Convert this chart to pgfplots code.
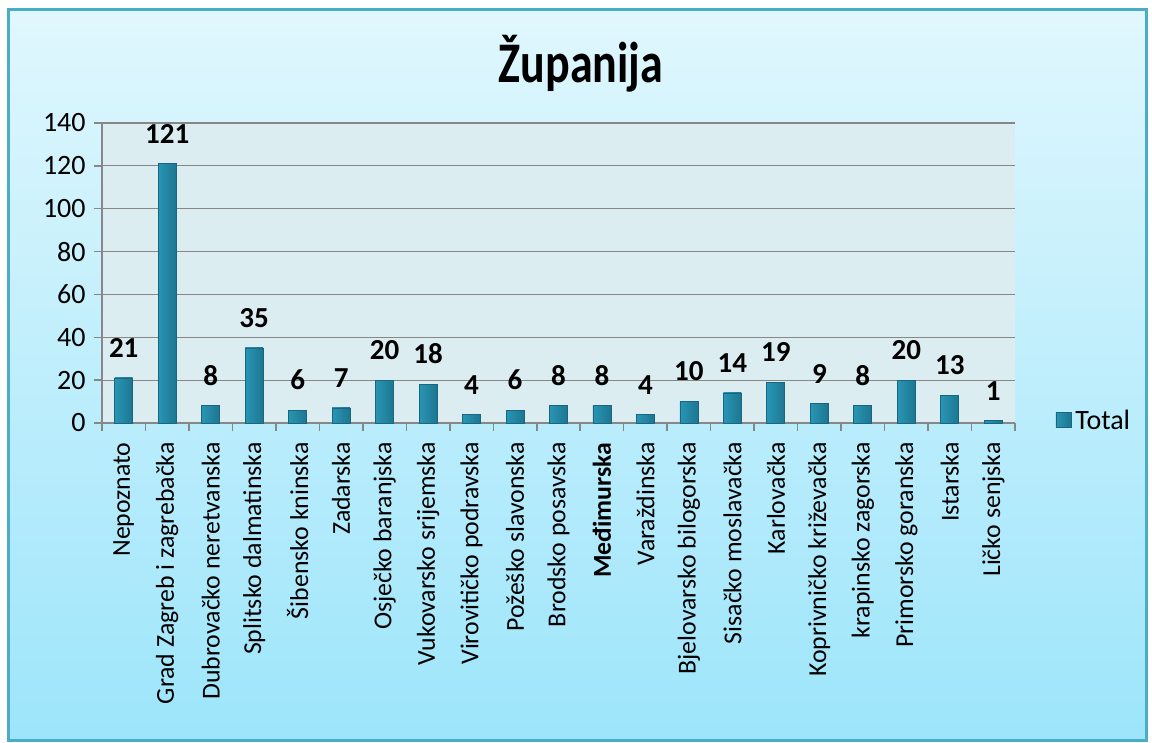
\documentclass[border=0pt]{standalone}
\usepackage{pgfplots}
\pgfplotsset{compat=1.18}
\usepackage{fontspec}
\setmainfont{Carlito}
\definecolor{bgtop}{HTML}{E0F7FD}
\definecolor{bgbot}{HTML}{9DE5FB}
\definecolor{frame}{HTML}{4BACC6}
\definecolor{plotbg}{HTML}{DCEDF2}
\definecolor{gridc}{HTML}{878787}
\definecolor{barL}{HTML}{2895B5}
\definecolor{barM}{HTML}{42BEDE}
\definecolor{barR}{HTML}{1D7690}
\definecolor{barD}{HTML}{186680}
\pgfplotsset{onebar/.style={left color=barL, middle color=barM, right color=barR, draw=barD, line width=0.4bp, bar shift=0pt}}
\begin{document}
\begin{tikzpicture}
\path[use as bounding box, fill=white] (0bp,0bp) rectangle (576bp,371.5bp);
\shade[top color=bgtop, bottom color=bgbot] (4bp,1.5bp) rectangle (573bp,366.5bp);
\draw[frame, line width=1.5bp] (4bp,1.5bp) rectangle (573bp,366.5bp);
\begin{axis}[
  at={(51bp,160bp)}, anchor=south west,
  scale only axis, width=456.5bp, height=150bp,
  xmin=-0.5, xmax=20.5, ymin=0, ymax=140,
  ytick={0,20,...,140},
  xtick={0,...,20},
  minor xtick={-0.5,0.5,...,20.5},
  xticklabels={Nepoznato, Grad Zagreb i zagrebačka, Dubrovačko neretvanska, Splitsko dalmatinska, Šibensko kninska, Zadarska, Osječko baranjska, Vukovarsko srijemska, Virovitičko podravska, Požeško slavonska, Brodsko posavska, \textbf{Međimurska}, Varaždinska, Bjelovarsko bilogorska, Sisačko moslavačka, Karlovačka, Koprivničko križevačka, krapinsko zagorska, Primorsko goranska, Istarska, Ličko senjska},
  axis x line*=bottom, axis y line*=left,
  axis line style={draw=gridc, line width=0.75bp, -},
  axis background/.style={fill=plotbg},
  ymajorgrids, grid style={draw=gridc, line width=0.6bp},
  tick align=outside,
  major tick length=4bp, minor tick length=4bp,
  major x tick style={draw=none},
  minor x tick style={draw=gridc, line width=0.75bp},
  ytick style={draw=gridc, line width=0.75bp},
  /pgf/number format/assume math mode=true,
  ticklabel style={text=black},
  xticklabel style={font=\fontsize{12.9bp}{15bp}\selectfont, rotate=90, anchor=east, inner sep=0pt, xshift=-5.5bp},
  yticklabel style={font=\fontsize{14bp}{17bp}\selectfont, inner sep=0pt, xshift=-4bp},
  title={\scalebox{1}[1.25]{Županija}},
  title style={at={(axis description cs:0.5246,1.157)}, anchor=center, font=\bfseries\fontsize{23bp}{27bp}\selectfont},
  ybar, bar width=9bp,
  nodes near coords,
  every node near coord/.append style={font=\bfseries\fontsize{14.5bp}{17bp}\selectfont, text=black, inner sep=0pt, anchor=south, yshift=10bp},
  legend style={at={(axis description cs:1.044,0.007)}, anchor=west, draw=none, fill=none, font=\fontsize{14bp}{17bp}\selectfont, inner sep=0pt},
  legend image code/.code={\shade[left color=barL, middle color=barM, right color=barR, draw=barD] (0bp,-3.5bp) rectangle (7.5bp,4bp);},
]
\addplot[onebar] coordinates {(0,21)};
\addlegendentry{Total}
\addplot[onebar, forget plot] coordinates {(1,121)};
\addplot[onebar, forget plot] coordinates {(2,8)};
\addplot[onebar, forget plot] coordinates {(3,35)};
\addplot[onebar, forget plot] coordinates {(4,6)};
\addplot[onebar, forget plot] coordinates {(5,7)};
\addplot[onebar, forget plot] coordinates {(6,20)};
\addplot[onebar, forget plot] coordinates {(7,18)};
\addplot[onebar, forget plot] coordinates {(8,4)};
\addplot[onebar, forget plot] coordinates {(9,6)};
\addplot[onebar, forget plot] coordinates {(10,8)};
\addplot[onebar, forget plot] coordinates {(11,8)};
\addplot[onebar, forget plot] coordinates {(12,4)};
\addplot[onebar, forget plot] coordinates {(13,10)};
\addplot[onebar, forget plot] coordinates {(14,14)};
\addplot[onebar, forget plot] coordinates {(15,19)};
\addplot[onebar, forget plot] coordinates {(16,9)};
\addplot[onebar, forget plot] coordinates {(17,8)};
\addplot[onebar, forget plot] coordinates {(18,20)};
\addplot[onebar, forget plot] coordinates {(19,13)};
\addplot[onebar, forget plot] coordinates {(20,1)};
\end{axis}
\end{tikzpicture}
\end{document}
